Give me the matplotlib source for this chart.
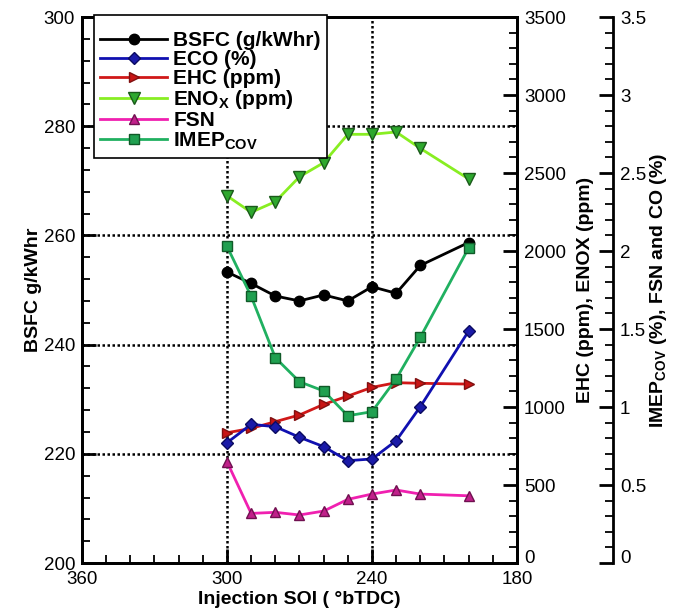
import matplotlib
matplotlib.use("Agg")
import matplotlib.pyplot as plt
from matplotlib.ticker import MultipleLocator
from matplotlib.transforms import ScaledTranslation

plt.rcParams["font.family"] = ["Liberation Sans", "DejaVu Sans"]
plt.rcParams["mathtext.fontset"] = "custom"
plt.rcParams["mathtext.rm"] = "Liberation Sans"
plt.rcParams["mathtext.bf"] = "Liberation Sans:bold"

# Injection timing (deg bTDC)
soi = [300, 290, 280, 270, 260, 250, 240, 230, 220, 200]

# Left axis: brake specific fuel consumption (g/kWhr)
bsfc = [253.3, 251.2, 248.9, 248.0, 249.1, 248.0, 250.6, 249.4, 254.5, 258.7]

# Middle axis: emissions in ppm
ehc = [835, 863, 906, 949, 1017, 1070, 1126, 1156, 1152, 1147]
enox = [2354, 2248, 2316, 2476, 2566, 2748, 2748, 2763, 2658, 2462]

# Right axis: percentages / smoke number
eco = [0.771, 0.889, 0.874, 0.806, 0.746, 0.656, 0.667, 0.784, 1.002, 1.487]
fsn = [0.649, 0.318, 0.325, 0.308, 0.333, 0.408, 0.442, 0.468, 0.442, 0.431]
imep_cov = [2.03, 1.71, 1.316, 1.162, 1.103, 0.944, 0.97, 1.18, 1.447, 2.02]

ppm_ticks = [0, 500, 1000, 1500, 2000, 2500, 3000, 3500]
pct_ticks = [0, 0.5, 1, 1.5, 2, 2.5, 3, 3.5]
pct_labels = ["0", "0.5", "1", "1.5", "2", "2.5", "3", "3.5"]

FS = 13.5
LFS = 14
fig = plt.figure(figsize=(6.85, 6.16), dpi=100)
ax = fig.add_axes([0.1197, 0.086, 0.635, 0.8864])
ax2 = ax.twinx()
ax3 = ax.twinx()
ax3.spines["right"].set_position(("axes", 1.2207))
for s in ["top", "left", "bottom"]:
    ax3.spines[s].set_visible(False)

for a in (ax, ax2, ax3):
    for sp in a.spines.values():
        sp.set_linewidth(2.0)
    a.tick_params(which="major", direction="in", length=10, width=2.0, labelsize=FS, pad=5)
    a.tick_params(which="minor", direction="in", length=6, width=1.3)

ax.set_xlim(360, 180)
ax.set_ylim(200, 300)
ax.xaxis.set_major_locator(MultipleLocator(60))
ax.xaxis.set_minor_locator(MultipleLocator(10))
ax.yaxis.set_major_locator(MultipleLocator(20))
ax.yaxis.set_minor_locator(MultipleLocator(4))
ax.tick_params(axis="x", which="both", top=False)
ax.tick_params(axis="x", which="major", pad=6)

ax2.set_ylim(0, 3500)
ax2.set_yticks(ppm_ticks)
ax2.yaxis.set_minor_locator(MultipleLocator(100))

ax3.set_ylim(0, 3.5)
ax3.set_yticks(pct_ticks)
ax3.set_yticklabels(pct_labels)
ax3.yaxis.set_minor_locator(MultipleLocator(0.1))

# lift the zero labels of the right-hand scales clear of the x tick labels
lift = ScaledTranslation(0, 5 / 72, fig.dpi_scale_trans)
for a in (ax2, ax3):
    zero_lbl = a.yaxis.get_major_ticks()[0].label2
    zero_lbl.set_transform(zero_lbl.get_transform() + lift)

ax.grid(True, which="major", color="black", linestyle=(0, (1, 1)), linewidth=1.8)
ax.set_axisbelow(True)

lw = 2.0
ms = 7.5
l_bsfc, = ax.plot(soi, bsfc, color="black", lw=lw, marker="o", ms=ms,
                  mfc="black", mec="black")
l_eco, = ax3.plot(soi, eco, color="#1010b0", lw=lw, marker="D", ms=6.5,
                  mfc="#1a1aa8", mec="#0a0a60")
l_ehc, = ax2.plot(soi, ehc, color="#d01818", lw=lw, marker=">", ms=ms,
                  mfc="#c81515", mec="#801010")
l_enox, = ax2.plot(soi, enox, color="#88ee22", lw=lw, marker="v", ms=ms + 0.5,
                   mfc="#2ea82e", mec="#1a5a1a")
l_fsn, = ax3.plot(soi, fsn, color="#f020b0", lw=lw, marker="^", ms=ms,
                  mfc="#c0208a", mec="#701050")
l_imep, = ax3.plot(soi, imep_cov, color="#20b060", lw=lw, marker="s", ms=6.5,
                   mfc="#20a050", mec="#105a28")

ax.set_xlabel("Injection SOI ( °bTDC)", fontsize=LFS, fontweight="bold", labelpad=2)
ax.set_ylabel("BSFC g/kWhr", fontsize=LFS, fontweight="bold", labelpad=1)
ax2.set_ylabel("EHC (ppm), ENOX (ppm)", fontsize=LFS, fontweight="bold", labelpad=8)
ax3.set_ylabel(r"IMEP$_\mathbf{COV}$ (%), FSN and CO (%)", fontsize=LFS,
               fontweight="bold", labelpad=1)

handles = [l_bsfc, l_eco, l_ehc, l_enox, l_fsn, l_imep]
labels = ["BSFC (g/kWhr)", "ECO (%)", "EHC (ppm)", r"ENO$_\mathbf{X}$ (ppm)",
          "FSN", r"IMEP$_\mathbf{COV}$"]
leg = ax3.legend(handles, labels, loc="upper left",
                 bbox_to_anchor=((94 - 82) / 435, 1 + 2 / 546),
                 fancybox=False, framealpha=1, edgecolor="black",
                 prop={"size": 15, "weight": "bold"},
                 title=" ", title_fontsize=8,
                 handlelength=3.2, handletextpad=0.3, labelspacing=0.0,
                 borderpad=0.3, borderaxespad=0)
leg.get_frame().set_linewidth(1.2)

fig.savefig("out.png", dpi=100)
